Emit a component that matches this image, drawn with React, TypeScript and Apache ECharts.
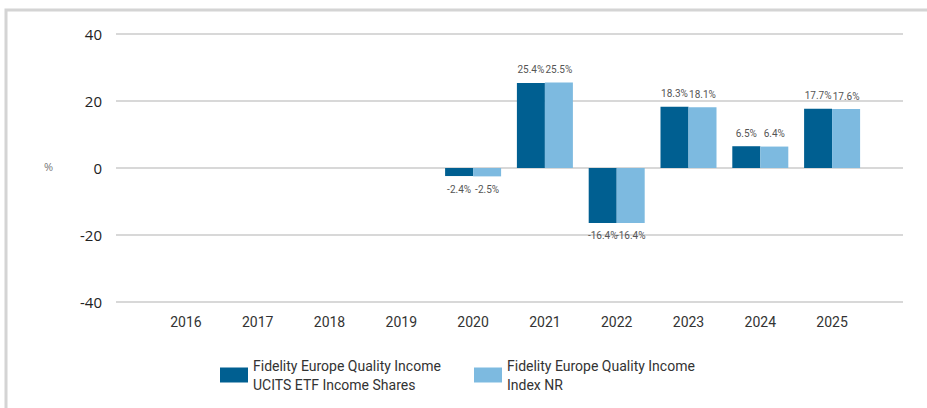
import React, { useEffect, useRef } from "react";
import * as echarts from "echarts";

const years = ["2016", "2017", "2018", "2019", "2020", "2021", "2022", "2023", "2024", "2025"];
const fundValues: (number | null)[] = [null, null, null, null, -2.4, 25.4, -16.4, 18.3, 6.5, 17.7];
const indexValues: (number | null)[] = [null, null, null, null, -2.5, 25.5, -16.4, 18.1, 6.4, 17.6];
const fundName = "Fidelity Europe Quality Income\nUCITS ETF Income Shares";
const indexName = "Fidelity Europe Quality Income\nIndex NR";
const yTicks = { min: -40, max: 40, interval: 20 };

const DARK = "#005f91";
const LIGHT = "#7dbae0";

function toData(vals: (number | null)[]) {
  return vals.map((v) =>
    v === null
      ? null
      : {
          value: v,
          label: { position: v >= 0 ? "top" : "bottom" },
        }
  );
}

export default function App() {
  const ref = useRef<HTMLDivElement>(null);
  useEffect(() => {
    document.body.style.margin = "0";
    const chart = echarts.init(ref.current!, null, { renderer: "svg" });
    const labelCfg = {
      show: true,
      distance: 8,
      fontSize: 10,
      color: "#555",
      fontFamily: "Roboto",
      formatter: (p: any) => `${p.value}%`,
    };
    const legendText = { fontSize: 14, lineHeight: 19, color: "#333", fontFamily: "Roboto" };
    chart.setOption({
      animation: false,
      backgroundColor: "#fff",
      grid: [
        { left: 116, right: 24, top: 34, height: 268 },
        { left: 150, width: 718, top: 34, height: 268 },
      ],
      xAxis: [
        { gridIndex: 0, type: "value", show: false, min: 0, max: 1 },
        {
          gridIndex: 1,
          type: "category",
          data: years,
          axisLine: { show: false },
          axisTick: { show: false },
          axisLabel: { margin: 13, fontSize: 14, color: "#333", fontFamily: "Roboto" },
        },
      ],
      yAxis: [
        {
          gridIndex: 0,
          type: "value",
          ...yTicks,
          axisLine: { show: false },
          axisTick: { show: false },
          axisLabel: { margin: 14, fontSize: 15, color: "#222", fontFamily: "Open Sans" },
          splitLine: { lineStyle: { color: "#d8d8d8", width: 2 } },
        },
        {
          gridIndex: 1,
          type: "value",
          ...yTicks,
          show: false,
          splitLine: { show: false },
        },
      ],
      legend: [
        {
          left: 215,
          top: 351,
          data: [fundName],
          icon: "rect",
          itemWidth: 28,
          itemHeight: 15,
          textStyle: legendText,
        },
        {
          left: 469,
          top: 351,
          data: [indexName],
          icon: "rect",
          itemWidth: 28,
          itemHeight: 15,
          textStyle: legendText,
        },
      ],
      graphic: [
        {
          type: "polyline",
          shape: { points: [[6, 408], [6, 10], [927, 10]] },
          style: { stroke: "#d4d4d4", lineWidth: 3, fill: null },
        },
        {
          type: "text",
          left: 44,
          top: 161,
          style: { text: "%", fontSize: 11, fill: "#777", fontFamily: "Open Sans" },
        },
      ],
      series: [
        {
          name: fundName,
          type: "bar",
          xAxisIndex: 1,
          yAxisIndex: 1,
          data: toData(fundValues),
          barWidth: 28,
          barGap: "0%",
          itemStyle: { color: DARK },
          label: labelCfg,
        },
        {
          name: indexName,
          type: "bar",
          xAxisIndex: 1,
          yAxisIndex: 1,
          data: toData(indexValues),
          barWidth: 28,
          barGap: "0%",
          itemStyle: { color: LIGHT },
          label: labelCfg,
        },
      ],
    });
    return () => chart.dispose();
  }, []);
  return <div ref={ref} style={{ width: 927, height: 408 }} />;
}
